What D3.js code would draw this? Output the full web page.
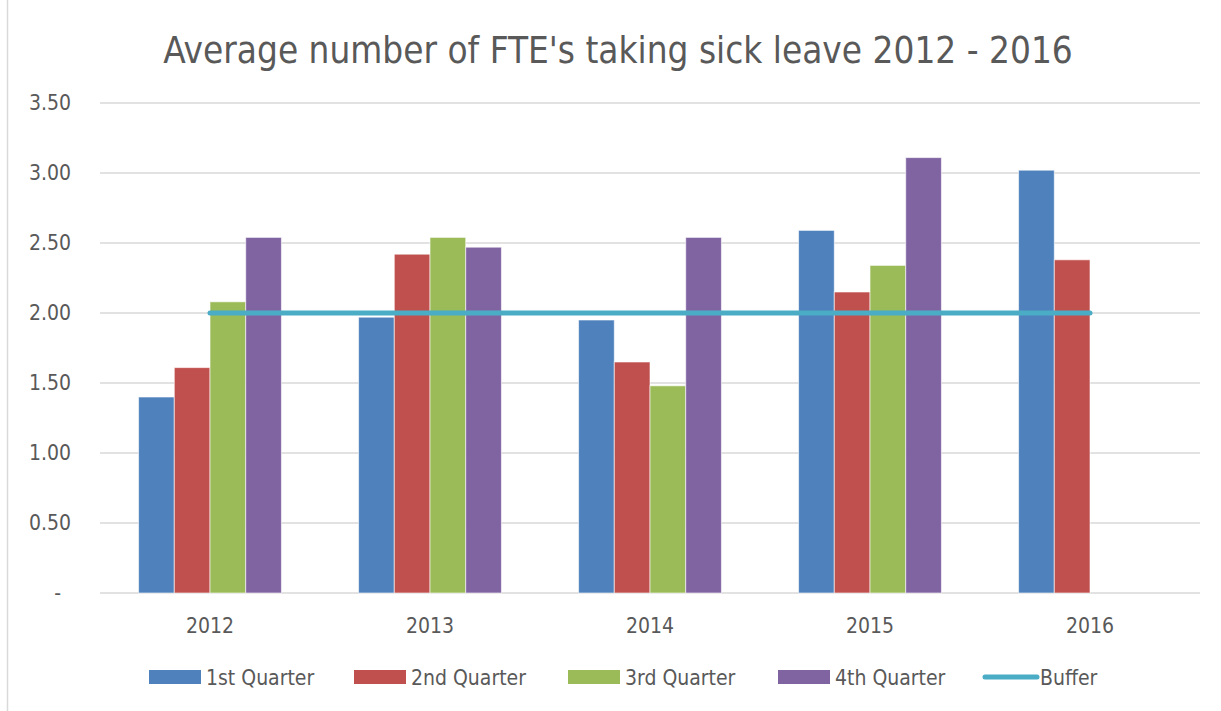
<!DOCTYPE html>
<html>
<head>
<meta charset="utf-8">
<script src="https://cdn.jsdelivr.net/npm/d3@7"></script>
<style>
  body { margin: 0; background: #fff; }
  svg { display: block; font-family: "DejaVu Sans Condensed", "DejaVu Sans", sans-serif; }
</style>
</head>
<body>
<script>
const years = ["2012", "2013", "2014", "2015", "2016"];
const quarters = ["1st Quarter", "2nd Quarter", "3rd Quarter", "4th Quarter"];
const q1 = [1.40, 1.97, 1.95, 2.59, 3.02];
const q2 = [1.61, 2.42, 1.65, 2.15, 2.38];
const q3 = [2.08, 2.54, 1.48, 2.34, null];
const q4 = [2.54, 2.47, 2.54, 3.11, null];
const buffer = [2, 2, 2, 2, 2];
const yTicks = [0, 0.5, 1, 1.5, 2, 2.5, 3, 3.5];

const colors = ["#4F81BD", "#C0504D", "#9BBB59", "#8064A2"];
const bufferColor = "#4BACC6";

const w = 1221, h = 711;
const plotLeft = 100, plotRight = 1200, plotTop = 103, plotBottom = 593;
const labelSize = 21;

const svg = d3.select("body").append("svg").attr("width", w).attr("height", h);

// border of the chart area
svg.append("rect")
  .attr("x", 7.5).attr("y", -2)
  .attr("width", w).attr("height", h + 4)
  .attr("fill", "#fff")
  .attr("stroke", "#d9d9d9")
  .attr("stroke-width", 1.5);

svg.append("text")
  .attr("x", 618).attr("y", 63)
  .attr("text-anchor", "middle")
  .attr("font-size", 36.6)
  .attr("fill", "#595959")
  .text("Average number of FTE's taking sick leave 2012 - 2016");

const x = d3.scaleBand().domain(years).range([plotLeft, plotRight]);
const xq = d3.scaleBand().domain(quarters).range([0, x.bandwidth()]).paddingOuter(1.08);
const y = d3.scaleLinear().domain([0, 3.5]).range([plotBottom, plotTop]);

// grid
svg.append("g")
  .selectAll("line")
  .data(yTicks)
  .join("line")
  .attr("x1", plotLeft).attr("x2", plotRight)
  .attr("y1", (d) => y(d)).attr("y2", (d) => y(d))
  .attr("stroke", "#d9d9d9")
  .attr("stroke-width", 1.5);

const yAxis = d3.axisLeft(y)
  .tickValues(yTicks)
  .tickSize(0)
  .tickPadding(0)
  .tickFormat((d) => d === 0 ? "-" : d3.format(".2f")(d));

const gy = svg.append("g").attr("transform", "translate(71,0)").call(yAxis);
gy.select(".domain").remove();
gy.attr("font-size", labelSize).attr("font-family", null);
gy.selectAll("text").attr("fill", "#595959");
gy.selectAll(".tick").filter((d) => d === 0).select("text").attr("dx", -10);

const xAxis = d3.axisBottom(x).tickSize(0).tickPadding(0);
const gx = svg.append("g").attr("transform", "translate(0,618)").call(xAxis);
gx.select(".domain").remove();
gx.attr("font-size", labelSize).attr("font-family", null);
gx.selectAll("text").attr("fill", "#595959");

// bars
const series = [q1, q2, q3, q4];
series.forEach((vals, si) => {
  svg.append("g")
    .selectAll("rect")
    .data(vals.map((v, i) => ({ year: years[i], v })).filter((d) => d.v != null))
    .join("rect")
    .attr("x", (d) => x(d.year) + xq(quarters[si]))
    .attr("y", (d) => y(d.v))
    .attr("width", xq.bandwidth())
    .attr("height", (d) => y(0) - y(d.v))
    .attr("fill", colors[si])
    .attr("stroke", "#fff")
    .attr("stroke-opacity", 0.6)
    .attr("stroke-width", 1);
});

// buffer line
const line = d3.line()
  .x((d, i) => x(years[i]) + x.bandwidth() / 2)
  .y((d) => y(d));

svg.append("path")
  .datum(buffer)
  .attr("d", line)
  .attr("fill", "none")
  .attr("stroke", bufferColor)
  .attr("stroke-width", 5)
  .attr("stroke-linecap", "round");

// legend
const legendItems = [
  { label: quarters[0], color: colors[0], x: 149 },
  { label: quarters[1], color: colors[1], x: 354 },
  { label: quarters[2], color: colors[2], x: 568 },
  { label: quarters[3], color: colors[3], x: 778 },
  { label: "Buffer", color: bufferColor, x: 983, line: true },
];

const lg = svg.append("g").attr("transform", "translate(0,677)");
legendItems.forEach((d) => {
  if (d.line) {
    lg.append("line")
      .attr("x1", d.x + 2).attr("x2", d.x + 54)
      .attr("y1", 0).attr("y2", 0)
      .attr("stroke", d.color)
      .attr("stroke-width", 5)
      .attr("stroke-linecap", "round");
  } else {
    lg.append("rect")
      .attr("x", d.x).attr("y", -7)
      .attr("width", 52).attr("height", 14)
      .attr("fill", d.color);
  }
  lg.append("text")
    .attr("x", d.x + 57).attr("y", 7.5)
    .attr("font-size", labelSize)
    .attr("fill", "#595959")
    .text(d.label);
});
</script>
</body>
</html>
